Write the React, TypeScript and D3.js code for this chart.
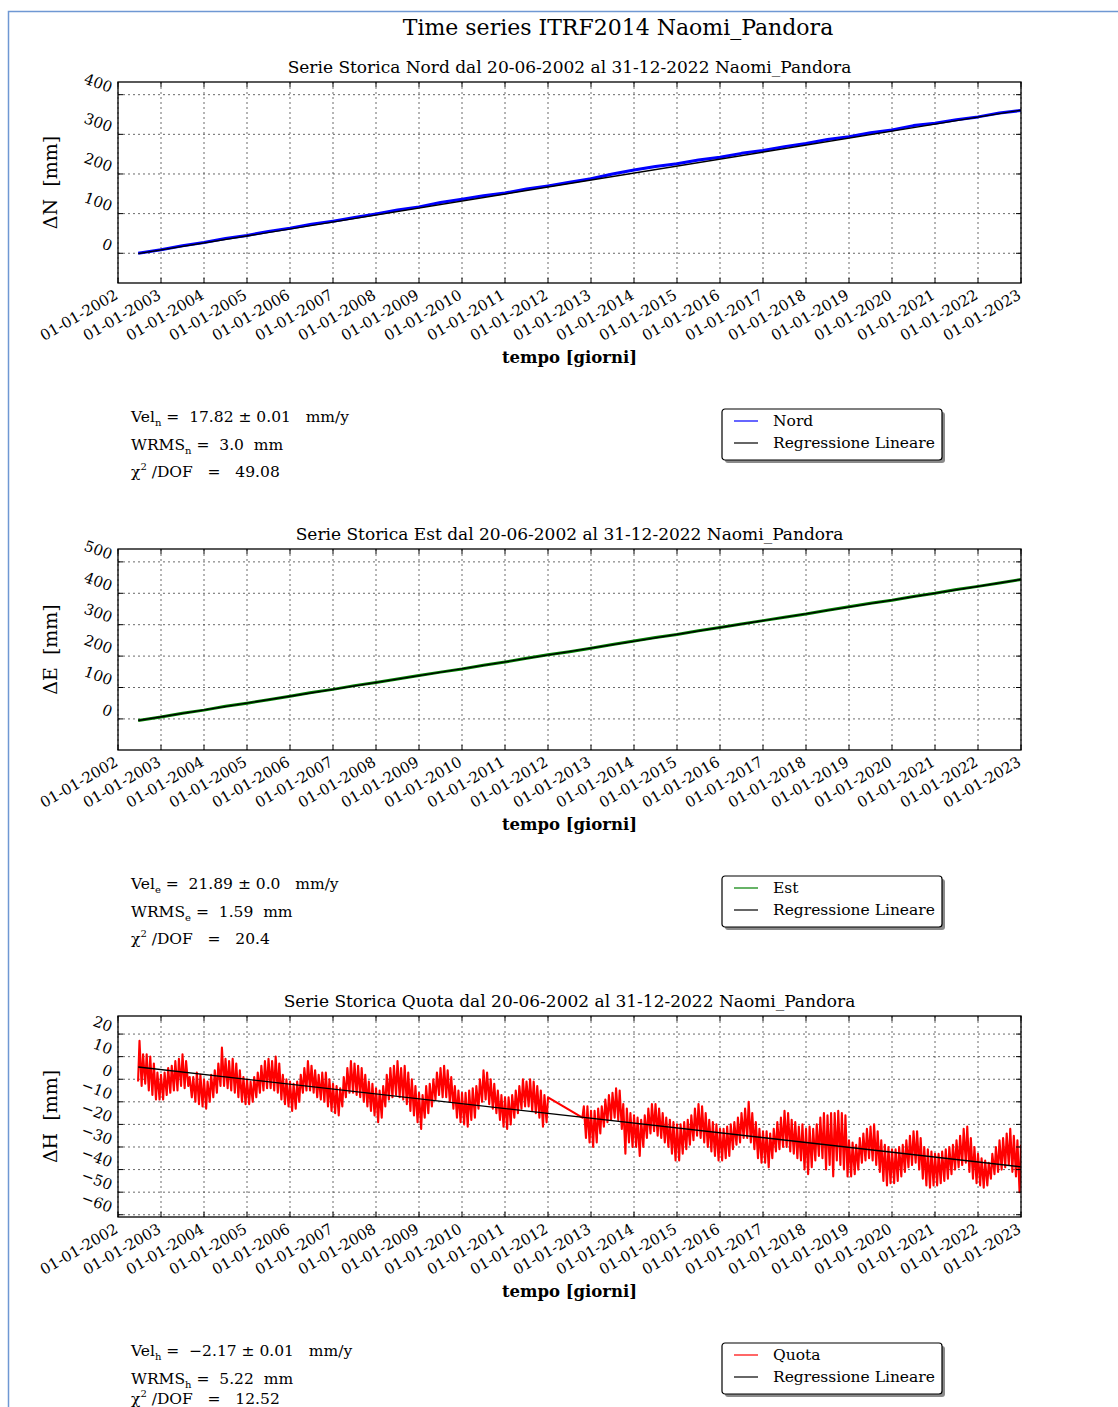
import React, { useRef, useEffect } from "react";
import * as d3 from "d3";

const WIDTH = 1118;
const HEIGHT = 1407;
const SERIF = "'DejaVu Serif', serif";
const NB = "\u00A0";

// x axis: one tick per year
const xTickYears = [
  2002, 2003, 2004, 2005, 2006, 2007, 2008, 2009, 2010, 2011, 2012,
  2013, 2014, 2015, 2016, 2017, 2018, 2019, 2020, 2021, 2022, 2023,
];
const xTickLabels = [
  "01-01-2002", "01-01-2003", "01-01-2004", "01-01-2005", "01-01-2006",
  "01-01-2007", "01-01-2008", "01-01-2009", "01-01-2010", "01-01-2011",
  "01-01-2012", "01-01-2013", "01-01-2014", "01-01-2015", "01-01-2016",
  "01-01-2017", "01-01-2018", "01-01-2019", "01-01-2020", "01-01-2021",
  "01-01-2022", "01-01-2023",
];

// y ticks
const nordTicks = [0, 100, 200, 300, 400];
const estTicks = [0, 100, 200, 300, 400, 500];
const quotaTicks = [20, 10, 0, -10, -20, -30, -40, -50, -60];

const halfYears = [
  2002.47, 2003, 2003.5, 2004, 2004.5, 2005, 2005.5, 2006, 2006.5, 2007,
  2007.5, 2008, 2008.5, 2009, 2009.5, 2010, 2010.5, 2011, 2011.5, 2012,
  2012.5, 2013, 2013.5, 2014, 2014.5, 2015, 2015.5, 2016, 2016.5, 2017,
  2017.5, 2018, 2018.5, 2019, 2019.5, 2020, 2020.5, 2021, 2021.5, 2022,
  2022.5, 2023,
];
const nordValues = [
  0, 9, 19, 27, 37, 45, 55, 63, 73, 81,
  90, 99, 109, 117, 128, 136, 145, 152, 162, 170,
  179, 188, 200, 210, 219, 226, 235, 242, 252, 259,
  269, 277, 287, 294, 304, 311, 322, 328, 337, 344,
  354, 360,
];
const estValues = [
  -5, 6, 18, 28, 40, 50, 61, 72, 84, 94,
  106, 116, 127, 138, 149, 159, 171, 181, 193, 204,
  214, 225, 237, 248, 259, 269, 281, 291, 302, 313,
  324, 334, 346, 357, 368, 378, 390, 400, 412, 422,
  433, 444,
];

// linear regression end points
const regYears = [2002.47, 2023.0];
const nordReg = [-1, 361];
const estReg = [-5, 444];
const quotaReg = [5.4, -38.8];

// Quota: monthly low / high of the noisy band, one row per year
const quotaYears = [
  2002, 2003, 2004, 2005, 2006, 2007, 2008, 2009, 2010, 2011, 2012,
  2013, 2014, 2015, 2016, 2017, 2018, 2019, 2020, 2021, 2022,
];
const quotaLo = [
  [null, null, null, null, null, -1, -3, -2, -5, -7, -9, -9],
  [-9, -7, -6, -5, -5, -3, -4, -3, -8, -10, -11, -12],
  [-13, -10, -8, -6, -3, -3, -4, -5, -6, -8, -10, -11],
  [-11, -10, -8, -6, -5, -4, -4, -5, -6, -9, -11, -12],
  [-14, -13, -10, -6, -5, -5, -6, -8, -9, -10, -12, -14],
  [-15, -16, -12, -8, -6, -6, -7, -8, -10, -12, -14, -16],
  [-19, -17, -12, -9, -8, -7, -8, -9, -11, -14, -16, -19],
  [-22, -17, -15, -12, -9, -7, -8, -8, -10, -13, -17, -19],
  [-20, -21, -18, -17, -13, -10, -9, -11, -13, -15, -18, -21],
  [-22, -20, -17, -15, -13, -12, -12, -14, -15, -17, -21, -19],
  [null, null, null, null, null, null, null, null, null, -17, -26, -28],
  [-30, -28, -24, -21, -19, -18, -17, -18, -22, -33, -28, -30],
  [-30, -34, -30, -26, -24, -23, -25, -26, -28, -30, -33, -36],
  [-36, -33, -31, -29, -27, -25, -26, -28, -30, -32, -34, -36],
  [-36, -35, -34, -31, -29, -28, -26, -26, -28, -31, -35, -37],
  [-37, -39, -35, -32, -31, -30, -30, -32, -33, -35, -36, -40],
  [-42, -39, -36, -34, -35, -40, -38, -43, -36, -38, -40, -43],
  [-43, -42, -40, -37, -36, -35, -36, -38, -41, -45, -47, -46],
  [-46, -45, -43, -41, -39, -38, -37, -40, -44, -47, -48, -47],
  [-47, -46, -45, -44, -42, -40, -39, -38, -37, -41, -44, -46],
  [-47, -48, -47, -44, -42, -41, -40, -39, -38, -41, -43, -50],
];
const quotaHi = [
  [null, null, null, null, null, 17, 11, 11, 10, 7, 3, 2],
  [3, 5, 6, 8, 9, 11, 8, 1, 1, 3, 2, 0],
  [-1, 2, 4, 7, 14, 9, 8, 9, 7, 4, 1, 0],
  [-1, 1, 3, 6, 8, 9, 8, 10, 7, 2, 0, -1],
  [-2, -1, 2, 5, 8, 6, 4, 2, 3, 3, 0, -2],
  [-3, -4, 1, 5, 8, 7, 6, 5, 2, -1, -2, -4],
  [-5, -3, 2, 5, 6, 8, 5, 6, 3, 0, -3, -6],
  [-7, -3, -2, 0, 3, 5, 6, 4, 1, -3, -5, -6],
  [-6, -5, -4, -3, 0, 4, 3, 0, -2, -5, -7, -8],
  [-8, -7, -5, -3, 0, -1, 0, -1, -3, -5, -7, -8],
  [null, null, null, null, null, null, null, null, null, -12, -12, -14],
  [-14, -13, -12, -9, -7, -6, -4, -5, -11, -13, -15, -16],
  [-17, -18, -16, -13, -11, -11, -13, -15, -17, -18, -19, -20],
  [-20, -19, -18, -16, -13, -11, -12, -15, -18, -19, -20, -22],
  [-22, -21, -20, -19, -17, -15, -13, -10, -15, -19, -22, -23],
  [-23, -24, -22, -19, -17, -14, -15, -18, -19, -21, -20, -22],
  [-21, -22, -20, -17, -15, -16, -15, -15, -14, -15, -16, -27],
  [-28, -29, -26, -24, -22, -21, -20, -23, -27, -29, -30, -31],
  [-31, -30, -29, -27, -25, -23, -23, -26, -30, -31, -32, -33],
  [-33, -32, -31, -30, -29, -27, -25, -22, -21, -26, -30, -33],
  [-35, -36, -37, -33, -30, -27, -26, -24, -22, -25, -27, -29],
];

// statistics printed under each panel
const nordStats = ["17.82 ± 0.01", "3.0", "49.08"];
const estStats = ["21.89 ± 0.0", "1.59", "20.4"];
const quotaStats = ["−2.17 ± 0.01", "5.22", "12.52"];

// flatten the monthly band into a zig-zag polyline
const quotaPoints: [number, number][] = [];
quotaYears.forEach((yr, i) => {
  for (let m = 0; m < 12; m++) {
    const lo = quotaLo[i][m];
    const hi = quotaHi[i][m];
    if (lo === null || hi === null) continue;
    quotaPoints.push([yr + (m + 0.6) / 12, lo]);
    quotaPoints.push([yr + (m + 1) / 12, hi]);
  }
});

const panels = [
  {
    top: 82,
    title: "Serie Storica Nord dal 20-06-2002 al 31-12-2022 Naomi_Pandora",
    yLabel: "ΔN",
    domain: [-75, 432],
    ticks: nordTicks,
    series: halfYears.map((t, i) => [t, nordValues[i]]),
    reg: regYears.map((t, i) => [t, nordReg[i]]),
    color: "#0000ff",
    width: 3,
    name: "Nord",
    sub: "n",
    stats: nordStats,
  },
  {
    top: 549,
    title: "Serie Storica Est dal 20-06-2002 al 31-12-2022 Naomi_Pandora",
    yLabel: "ΔE",
    domain: [-99, 541],
    ticks: estTicks,
    series: halfYears.map((t, i) => [t, estValues[i]]),
    reg: regYears.map((t, i) => [t, estReg[i]]),
    color: "#008000",
    width: 3,
    name: "Est",
    sub: "e",
    stats: estStats,
  },
  {
    top: 1016,
    title: "Serie Storica Quota dal 20-06-2002 al 31-12-2022 Naomi_Pandora",
    yLabel: "ΔH",
    domain: [-61, 28],
    ticks: quotaTicks,
    series: quotaPoints,
    reg: regYears.map((t, i) => [t, quotaReg[i]]),
    color: "#ff0000",
    width: 2.1,
    name: "Quota",
    sub: "h",
    stats: quotaStats,
  },
];

const fmtTick = (v: number) => (v < 0 ? "−" + Math.abs(v) : String(v));

const App = () => {
  const svgRef = useRef<SVGSVGElement>(null);

  useEffect(() => {
    const svg = d3.select(svgRef.current);
    svg.selectAll("*").remove();

    // page frame (blue border of the screenshot)
    svg
      .append("path")
      .attr("d", `M8.5,${HEIGHT} V11.5 H${WIDTH}`)
      .attr("fill", "none")
      .attr("stroke", "#6f98d3")
      .attr("stroke-width", 1.5);

    svg
      .append("text")
      .attr("x", 618)
      .attr("y", 35)
      .attr("text-anchor", "middle")
      .attr("font-family", SERIF)
      .attr("font-size", 22)
      .text("Time series ITRF2014 Naomi_Pandora");

    const x = d3.scaleLinear().domain([2002, 2023]).range([118, 1021]);

    panels.forEach((p, idx) => {
      const top = p.top;
      const bottom = top + 201;
      const y = d3.scaleLinear().domain(p.domain).range([bottom, top]);
      const g = svg.append("g");

      // subtitle
      g.append("text")
        .attr("x", 569.5)
        .attr("y", top - 9)
        .attr("text-anchor", "middle")
        .attr("font-family", SERIF)
        .attr("font-size", 17)
        .text(p.title);

      // dotted grid
      const grid = g.append("g").attr("stroke", "#444").attr("stroke-width", 0.8).attr("stroke-dasharray", "2,3");
      xTickYears.forEach((yr) => {
        grid.append("line").attr("x1", x(yr)).attr("x2", x(yr)).attr("y1", top).attr("y2", bottom);
      });
      p.ticks.forEach((v) => {
        grid.append("line").attr("x1", 118).attr("x2", 1021).attr("y1", y(v)).attr("y2", y(v));
      });

      // data
      const clipId = `clip-${idx}`;
      g.append("clipPath").attr("id", clipId).append("rect").attr("x", 118).attr("y", top).attr("width", 903).attr("height", 201);
      const line = d3
        .line<number[]>()
        .x((d) => x(d[0]))
        .y((d) => y(d[1]));
      const data = g.append("g").attr("clip-path", `url(#${clipId})`);
      data
        .append("path")
        .attr("d", line(p.series as number[][]))
        .attr("fill", "none")
        .attr("stroke", p.color)
        .attr("stroke-width", p.width)
        .attr("stroke-linejoin", "round");
      data
        .append("path")
        .attr("d", line(p.reg as number[][]))
        .attr("fill", "none")
        .attr("stroke", "#000")
        .attr("stroke-width", 1.4);

      // frame + inward ticks
      g.append("rect")
        .attr("x", 118)
        .attr("y", top)
        .attr("width", 903)
        .attr("height", 201)
        .attr("fill", "none")
        .attr("stroke", "#000")
        .attr("stroke-width", 1.3);
      const ticks = g.append("g").attr("stroke", "#000").attr("stroke-width", 1);
      xTickYears.forEach((yr) => {
        ticks.append("line").attr("x1", x(yr)).attr("x2", x(yr)).attr("y1", top).attr("y2", top + 5);
        ticks.append("line").attr("x1", x(yr)).attr("x2", x(yr)).attr("y1", bottom).attr("y2", bottom - 5);
      });
      p.ticks.forEach((v) => {
        ticks.append("line").attr("x1", 118).attr("x2", 123).attr("y1", y(v)).attr("y2", y(v));
        ticks.append("line").attr("x1", 1021).attr("x2", 1016).attr("y1", y(v)).attr("y2", y(v));
      });

      // x tick labels, rotated
      xTickYears.forEach((yr, i) => {
        g.append("text")
          .attr("transform", `translate(${x(yr) + 1},${bottom + 15}) rotate(-30)`)
          .attr("text-anchor", "end")
          .attr("font-family", SERIF)
          .attr("font-size", 15)
          .text(xTickLabels[i]);
      });

      // y tick labels, slanted
      p.ticks.forEach((v) => {
        g.append("text")
          .attr("transform", `translate(110,${y(v) - 2}) rotate(20)`)
          .attr("text-anchor", "end")
          .attr("font-family", SERIF)
          .attr("font-size", 15)
          .text(fmtTick(v));
      });

      // axis labels
      g.append("text")
        .attr("x", 569.5)
        .attr("y", top + 281)
        .attr("text-anchor", "middle")
        .attr("font-family", SERIF)
        .attr("font-weight", "bold")
        .attr("font-size", 16.5)
        .text("tempo [giorni]");
      g.append("text")
        .attr("transform", `translate(57,${top + 100.5}) rotate(-90)`)
        .attr("text-anchor", "middle")
        .attr("font-family", SERIF)
        .attr("font-size", 19)
        .text(`${p.yLabel}${NB}${NB}[mm]`);

      // statistics block
      const stats = g.append("g").attr("font-family", SERIF).attr("font-size", 15.5);
      const lastY = idx === 2 ? top + 388 : top + 395;
      const l1 = stats.append("text").attr("x", 131).attr("y", top + 340);
      l1.append("tspan").text("Vel");
      l1.append("tspan").attr("font-size", 10).attr("dy", 4).text(p.sub);
      l1.append("tspan").attr("dy", -4).text(`${NB}=${NB}${NB}${p.stats[0]}${NB}${NB}${NB}mm/y`);
      const l2 = stats.append("text").attr("x", 131).attr("y", top + 368);
      l2.append("tspan").text("WRMS");
      l2.append("tspan").attr("font-size", 10).attr("dy", 4).text(p.sub);
      l2.append("tspan").attr("dy", -4).text(`${NB}=${NB}${NB}${p.stats[1]}${NB}${NB}mm`);
      const l3 = stats.append("text").attr("x", 131).attr("y", lastY);
      l3.append("tspan").text("χ");
      l3.append("tspan").attr("font-size", 10).attr("dy", -7).text("2");
      l3.append("tspan").attr("dy", 7).text(`${NB}/DOF${NB}${NB}${NB}=${NB}${NB}${NB}${p.stats[2]}`);

      // legend with drop shadow
      const lg = g.append("g").attr("transform", `translate(722,${top + 327})`);
      lg.append("rect").attr("x", 3).attr("y", 3).attr("width", 220).attr("height", 51).attr("rx", 3).attr("fill", "#8a8a8a");
      lg.append("rect")
        .attr("width", 220)
        .attr("height", 51)
        .attr("rx", 3)
        .attr("fill", "#fff")
        .attr("stroke", "#000")
        .attr("stroke-width", 1.2);
      const entries = [
        { label: p.name, color: p.color },
        { label: "Regressione Lineare", color: "#000" },
      ];
      entries.forEach((e, i) => {
        const ly = 12 + i * 22;
        lg.append("line").attr("x1", 12).attr("x2", 36).attr("y1", ly).attr("y2", ly).attr("stroke", e.color).attr("stroke-width", 1.2);
        lg.append("text")
          .attr("x", 51)
          .attr("y", ly + 5)
          .attr("font-family", SERIF)
          .attr("font-size", 15.5)
          .text(e.label);
      });
    });
  }, []);

  return (
    <svg
      ref={svgRef}
      width={WIDTH}
      height={HEIGHT}
      style={{ position: "absolute", left: 0, top: 0, background: "#fff" }}
    />
  );
};

export default App;
